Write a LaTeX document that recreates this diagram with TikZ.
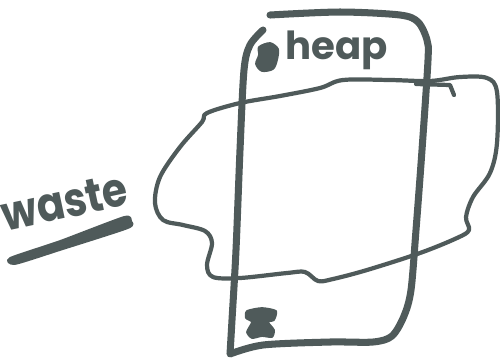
\documentclass[tikz,border=0pt]{standalone}
\usepackage{fontspec}
\usepackage{tikz}
\usetikzlibrary{positioning}
\newfontfamily\handfont{Poppins}
\definecolor{ink}{HTML}{4F5A5A}
\tikzset{
  thickpen/.style={draw=ink,line width=4pt,line cap=round,line join=round},
  thinpen/.style={draw=ink,line width=2.4pt,line cap=round,line join=round},
  blot/.style={fill=ink,draw=ink,line width=1pt,line join=round},
  scrawl/.style={text=ink,inner sep=0pt,font=\handfont\bfseries},
}

\begin{document}
\begin{tikzpicture}[x=0.02cm,y=-0.02cm]
\useasboundingbox (0,0) rectangle (500,360);

% the waste blob
\draw[thinpen] plot[smooth cycle,tension=0.55] coordinates {
  (207,113) (240,103) (280,96) (320,88) (343,80) (390,80) (430,81)
  (460,77) (487,78) (497,92) (497,143) (490,173) (473,197) (466,217)
  (469,230) (457,238) (420,253) (367,270) (333,279) (318,281) (305,272)
  (287,273) (240,278) (213,277) (207,265) (212,243) (205,231) (183,225)
  (163,220) (155,203) (160,177) (180,147) (202,122)};
\draw[thinpen] (416,84) -- (450,85) -- (454,95);

% heap box
\draw[thickpen] plot[smooth,tension=0.5] coordinates {
  (263,30) (250,45) (244,70) (240,150) (236,250) (232,320) (230,354)}
  -- plot[smooth,tension=0.5] coordinates {
  (230,354) (263,345) (330,342) (373,342) (392,336) (404,316) (411,290)
  (416,230) (422,150) (428,60) (427,40) (418,22) (400,15) (340,12) (270,15)};

% scribbled marks
\fill[blot] plot[smooth cycle] coordinates {
  (259,47) (270,43) (278,49) (277,60) (273,69) (262,71) (256,64) (259,55)};
\fill[blot] plot[smooth cycle,tension=0.4] coordinates {
  (247,311) (262,308) (276,311) (274,320) (268,322) (274,330) (272,337)
  (262,336) (252,338) (247,332) (252,322) (246,318)};

% labels
\node[scrawl,anchor=base,font=\handfont\bfseries\fontsize{22}{22}\selectfont] (heap) at (337,59) {heap};
\node[scrawl,anchor=base,rotate=12,font=\handfont\bfseries\fontsize{27}{27}\selectfont] (waste) at (68,218) {\scalebox{0.86}[1]{waste}};
\fill[blot] plot[smooth cycle,tension=0.4] coordinates {
  (10,258) (60,241) (124,217) (131,221) (128,228) (60,250) (15,264)};
\end{tikzpicture}
\end{document}
